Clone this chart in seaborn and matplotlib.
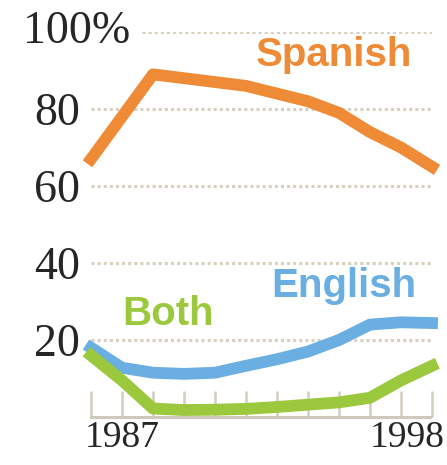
import numpy as np
import matplotlib
matplotlib.use("Agg")
import matplotlib.pyplot as plt
import pandas as pd
import seaborn as sns

years = list(range(1987, 1999))
spanish = [67, 78, 89, 88, 87, 86, 84, 82, 79, 74, 70, 65]
english = [18, 12.8, 11.5, 11.2, 11.5, 13.3, 15, 17, 20, 24, 24.6, 24.4]
both = [16, 9.5, 2.2, 1.8, 1.9, 2.1, 2.6, 3.2, 3.8, 5, 9.5, 13.3]
grid_vals = [20, 40, 60, 80, 100]
y_labels = ["20", "40", "60", "80"]

orange = "#ef8a36"
blue = "#6aaee2"
green = "#9cc83e"
grid_col = "#d9d0c0"

sns.set_style("white")
plt.rcParams["font.family"] = ["Liberation Sans", "DejaVu Sans"]

fig = plt.figure(figsize=(4.47, 4.65), dpi=100)
ax = fig.add_axes([91 / 447, 48 / 465, 341 / 447, 385 / 465])
ax.set_xlim(1987, 1998)
ax.set_ylim(0, 100)

# dotted gridlines
for v in grid_vals:
    x0 = 1988.65 if v == 100 else 1987
    ax.hlines(v, x0, 1998.1, colors=grid_col, linestyles=(0, (1, 1)), lw=2.2, zorder=1)

df = pd.DataFrame({"year": years, "Spanish": spanish, "English": english, "Both": both})
for name, col in [("Spanish", orange), ("English", blue), ("Both", green)]:
    sns.lineplot(data=df, x="year", y=name, ax=ax, color=col, lw=8.5,
                 solid_capstyle="projecting", solid_joinstyle="round", clip_on=False, zorder=3)

ax.text(1992.3, 94, "Spanish", color=orange, fontsize=29, fontweight="bold", va="center", ha="left")
ax.text(1992.8, 34, "English", color=blue, fontsize=29, fontweight="bold", va="center", ha="left")
ax.text(1988.0, 26.7, "Both", color=green, fontsize=29, fontweight="bold", va="center", ha="left")

for s in ["top", "right", "left"]:
    ax.spines[s].set_visible(False)
ax.spines["bottom"].set_color("#cfc9bd")
ax.spines["bottom"].set_linestyle((0, (1, 1)))
ax.spines["bottom"].set_linewidth(2.2)

ax.set_yticks([20, 40, 60, 80])
ax.set_yticklabels(y_labels, fontfamily="Liberation Serif", fontsize=33)
ax.tick_params(axis="y", length=0, pad=8)
ax.text(1988.26, 100, "100%", fontfamily="Liberation Serif", fontsize=33, ha="right", va="center")

ax.set_xticks(years)
ax.set_xticklabels([])
ax.tick_params(axis="x", bottom=True, direction="in", length=19, width=1.8, color="#d3cdc2")

ax.text(1986.8, -1.0, "1987", fontfamily="Liberation Serif", fontsize=27, ha="left", va="top", clip_on=False)
ax.text(1998.4, -1.0, "1998", fontfamily="Liberation Serif", fontsize=27, ha="right", va="top", clip_on=False)

ax.set_xlabel("")
ax.set_ylabel("")
fig.savefig("out.png", dpi=100)
